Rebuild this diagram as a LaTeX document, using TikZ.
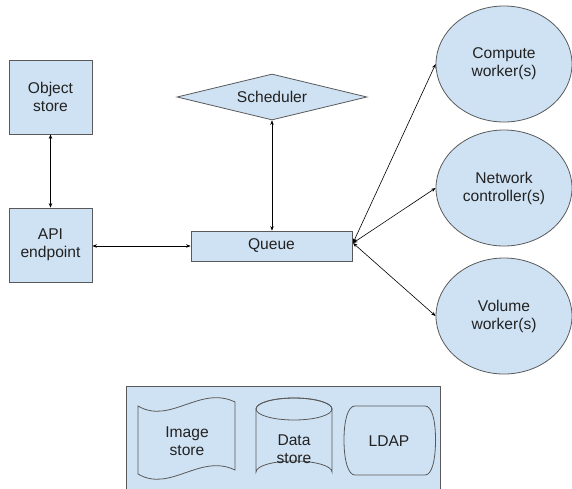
\documentclass[tikz,border=0pt]{standalone}
\usepackage{fontspec}
\setmainfont{Liberation Sans}
\usetikzlibrary{shapes.geometric,arrows.meta}
\definecolor{fillblue}{HTML}{CFE2F3}
\definecolor{edgegray}{HTML}{595959}
\definecolor{txt}{HTML}{222222}
\tikzset{
  blk/.style={draw=edgegray, fill=fillblue, line width=0.8pt},
  boxnode/.style={blk, rectangle, inner sep=0pt, align=center, text=txt},
  ellnode/.style={blk, ellipse, minimum width=136pt, minimum height=116pt, inner sep=0pt, align=center, text=txt},
  lbl/.style={align=center, text=txt, inner sep=0pt},
  conn/.style={line width=0.6pt, black, {Stealth[length=4.5pt,width=3.5pt]}-{Stealth[length=4.5pt,width=3.5pt]}},
}
\begin{document}
\begin{tikzpicture}[x=1pt, y=-1pt, font=\fontsize{15.6}{18}\selectfont]
\useasboundingbox (0,0) rectangle (572,488);
% top-level nodes
\node[boxnode, minimum width=83pt, minimum height=74pt] (obj) at (50.5,97) {Object\\store};
\node[boxnode, minimum width=83pt, minimum height=74pt] (api) at (50.5,245) {API\\endpoint};
\node[boxnode, minimum width=161pt, minimum height=30pt] (queue) at (271.5,246) {Queue};
\node[blk, diamond, aspect=4.13, minimum width=190pt, minimum height=46pt, inner sep=0pt, text=txt] (sched) at (272,97) {Scheduler};
\node[ellnode] (comp) at (504,64) {Compute\\worker(s)};
\node[ellnode] (net) at (504,188) {Network\\controller(s)};
\node[ellnode] (vol) at (504,316) {Volume\\worker(s)};
% connectors
\coordinate (qe) at (353,243);
\draw[conn] (obj.south) -- (api.north);
\draw[conn] (api.east |- queue.west) -- (queue.west);
\draw[conn] (sched.south) -- (queue.north -| sched.south);
\draw[conn] (qe) -- (comp.west);
\draw[conn] (qe) -- (net.west);
\draw[conn] (qe) -- (vol.west);
% bottom storage panel
\node[boxnode, anchor=north west, minimum width=314pt, minimum height=110pt] (panel) at (126,386) {};
% image store (punched tape)
\draw[blk] (138,406) .. controls (170,425) and (200,385) .. (235,402)
  -- (235,470) .. controls (200,453) and (170,493) .. (138,474) -- cycle;
\node[lbl] (img) at (187,441) {Image\\store};
% data store (cylinder)
\draw[blk] (256,409) -- (256,472) arc[start angle=180, end angle=360, x radius=38, y radius=11] -- (332,409) arc[start angle=0, end angle=-180, x radius=38, y radius=11] -- cycle;
\draw[draw=edgegray, line width=0.8pt] (256,409) arc[start angle=180, end angle=-180, x radius=38, y radius=11];
\node[lbl] (data) at (294,449) {Data\\store};
% LDAP
\draw[blk] (355,406) -- (425,406) .. controls (432,406) and (435.5,420) .. (435.5,440)
  .. controls (435.5,460) and (432,475) .. (425,475)
  -- (355,475) .. controls (348,475) and (344,460) .. (344,440)
  .. controls (344,420) and (348,406) .. cycle;
\node[lbl] (ldap) at (389,441) {LDAP};
\end{tikzpicture}
\end{document}
